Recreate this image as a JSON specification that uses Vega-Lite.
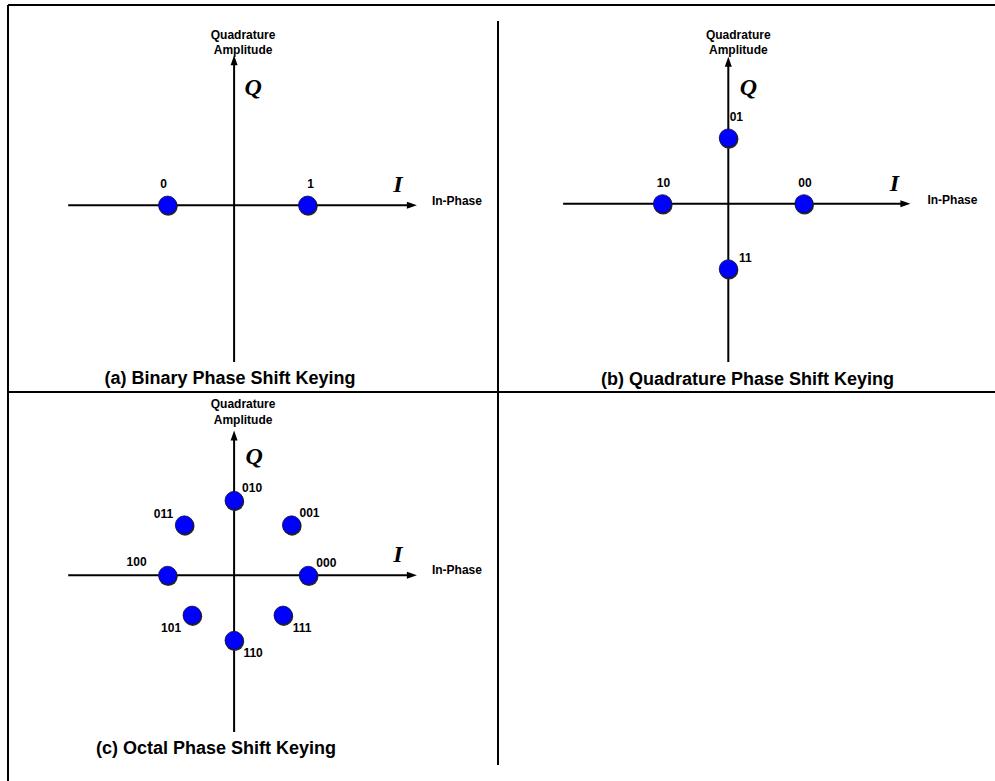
{
  "$schema": "https://vega.github.io/schema/vega-lite/v6.json",
  "padding": {"left": 7, "top": 4, "right": 0, "bottom": 0},
  "background": "#ffffff",
  "config": {
    "view": {"stroke": null},
    "concat": {"spacing": 0},
    "text": {"font": "Liberation Sans", "fontWeight": "bold", "fontSize": 12, "color": "#000000"},
    "title": {"orient": "bottom", "anchor": "middle", "baseline": "alphabetic", "font": "Liberation Sans", "fontWeight": "bold", "fontSize": 18, "color": "#000000"}
  },
  "datasets": {
    "segments": [
      {"panel": "a", "I": -3.23, "Q": 2.86, "I2": 3.77, "Q2": 2.86},
      {"panel": "a", "I": -3.23, "Q": -2.67, "I2": -3.23, "Q2": 2.86},
      {"panel": "a", "I": 3.77, "Q": -2.67, "I2": 3.77, "Q2": 2.63},
      {"panel": "a", "I": -3.23, "Q": -2.67, "I2": 3.77, "Q2": -2.67},
      {"panel": "a", "I": -2.37, "Q": 0, "I2": 2.54, "Q2": 0},
      {"panel": "a", "I": 0, "Q": -2.24, "I2": 0, "Q2": 2.07},
      {"panel": "b", "I": -3.29, "Q": 2.84, "I2": 3.81, "Q2": 2.84},
      {"panel": "b", "I": -3.29, "Q": -2.69, "I2": 3.81, "Q2": -2.69},
      {"panel": "b", "I": -2.36, "Q": 0, "I2": 2.53, "Q2": 0},
      {"panel": "b", "I": 0, "Q": -2.26, "I2": 0, "Q2": 2.03},
      {"panel": "c", "I": -3.23, "Q": -2.94, "I2": -3.23, "Q2": 2.62},
      {"panel": "c", "I": 3.77, "Q": -2.71, "I2": 3.77, "Q2": 2.62},
      {"panel": "c", "I": -2.37, "Q": 0, "I2": 2.54, "Q2": 0},
      {"panel": "c", "I": 0, "Q": -2.24, "I2": 0, "Q2": 2.0}
    ],
    "axes": [
      {"panel": "a", "axis": "I", "I": 2.54, "Q": 0, "name": "In-Phase", "symbol": "I"},
      {"panel": "a", "axis": "Q", "I": 0, "Q": 2.07, "name": "Quadrature\nAmplitude", "symbol": "Q"},
      {"panel": "b", "axis": "I", "I": 2.53, "Q": 0, "name": "In-Phase", "symbol": "I"},
      {"panel": "b", "axis": "Q", "I": 0, "Q": 2.03, "name": "Quadrature\nAmplitude", "symbol": "Q"},
      {"panel": "c", "axis": "I", "I": 2.54, "Q": 0, "name": "In-Phase", "symbol": "I"},
      {"panel": "c", "axis": "Q", "I": 0, "Q": 2.0, "name": "Quadrature\nAmplitude", "symbol": "Q"}
    ],
    "points": [
      {"panel": "a", "label": "0", "I": -0.95, "Q": 0},
      {"panel": "a", "label": "1", "I": 1.05, "Q": 0},
      {"panel": "b", "label": "01", "I": 0, "Q": 0.94},
      {"panel": "b", "label": "10", "I": -0.94, "Q": 0},
      {"panel": "b", "label": "00", "I": 1.08, "Q": 0},
      {"panel": "b", "label": "11", "I": 0, "Q": -0.93},
      {"panel": "c", "label": "010", "I": 0, "Q": 1.07},
      {"panel": "c", "label": "011", "I": -0.71, "Q": 0.72},
      {"panel": "c", "label": "001", "I": 0.82, "Q": 0.72},
      {"panel": "c", "label": "100", "I": -0.95, "Q": 0},
      {"panel": "c", "label": "000", "I": 1.06, "Q": 0},
      {"panel": "c", "label": "101", "I": -0.6, "Q": -0.57},
      {"panel": "c", "label": "111", "I": 0.7, "Q": -0.57},
      {"panel": "c", "label": "110", "I": 0, "Q": -0.93}
    ]
  },
  "bounds": "flush",
  "spacing": 0,
  "columns": 2,
  "concat": [
    {
      "title": {"text": "(a) Binary Phase Shift Keying", "offset": -23, "dx": -23},
      "width": 490,
      "height": 387,
      "encoding": {
        "x": {"field": "I", "type": "quantitative", "scale": {"domain": [-3.23, 3.77], "nice": false, "zero": false}, "axis": null},
        "y": {"field": "Q", "type": "quantitative", "scale": {"domain": [-2.67, 2.86], "nice": false, "zero": false}, "axis": null}
      },
      "layer": [
        {
          "data": {"name": "segments"},
          "transform": [{"filter": "datum.panel === 'a'"}],
          "mark": {"type": "rule", "color": "#000000", "strokeWidth": 2},
          "encoding": {"x2": {"field": "I2"}, "y2": {"field": "Q2"}}
        },
        {
          "data": {"name": "axes"},
          "transform": [{"filter": "datum.panel === 'a'"}],
          "layer": [
            {"transform": [{"filter": "datum.axis === 'I'"}], "mark": {"type": "point", "shape": "M1,0L-1,-0.7L-1,0.7Z", "size": 100, "filled": true, "color": "#000000", "opacity": 1}},
            {"transform": [{"filter": "datum.axis === 'Q'"}], "mark": {"type": "point", "shape": "M0,-1L-0.7,1L0.7,1Z", "size": 100, "filled": true, "color": "#000000", "opacity": 1}},
            {"transform": [{"filter": "datum.axis === 'I'"}], "mark": {"type": "text", "align": "left", "baseline": "middle", "dx": 20, "dy": -4}, "encoding": {"text": {"field": "name"}}},
            {"transform": [{"filter": "datum.axis === 'Q'"}], "mark": {"type": "text", "align": "center", "baseline": "alphabetic", "dx": 9, "dy": -21, "lineBreak": "\n", "lineHeight": 15}, "encoding": {"text": {"field": "name"}}},
            {"transform": [{"filter": "datum.axis === 'I'"}], "mark": {"type": "text", "align": "center", "baseline": "middle", "dx": -14, "dy": -20, "font": "Liberation Serif", "fontStyle": "italic", "fontWeight": "bold", "fontSize": 24}, "encoding": {"text": {"field": "symbol"}}},
            {"transform": [{"filter": "datum.axis === 'Q'"}], "mark": {"type": "text", "align": "center", "baseline": "middle", "dx": 19, "dy": 28, "font": "Liberation Serif", "fontStyle": "italic", "fontWeight": "bold", "fontSize": 24}, "encoding": {"text": {"field": "symbol"}}}
          ]
        },
        {
          "data": {"name": "points"},
          "transform": [{"filter": "datum.panel === 'a'"}],
          "layer": [
            {"mark": {"type": "point", "shape": "circle", "filled": true, "size": 361, "color": "#2a2a2a", "opacity": 1, "xOffset": 0.6, "yOffset": 1.2}},
            {"mark": {"type": "point", "shape": "circle", "filled": true, "size": 330, "fill": "#0000ff", "stroke": "#15153a", "strokeWidth": 0.8, "opacity": 1}},
            {"transform": [{"filter": "datum.label === '0'"}], "mark": {"type": "text", "baseline": "middle", "dx": -4, "dy": -21}, "encoding": {"text": {"field": "label"}}},
            {"transform": [{"filter": "datum.label === '1'"}], "mark": {"type": "text", "baseline": "middle", "dx": 3, "dy": -21}, "encoding": {"text": {"field": "label"}}}
          ]
        }
      ]
    },
    {
      "title": {"text": "(b) Quadrature Phase Shift Keying", "offset": -22, "dx": 1},
      "width": 497,
      "height": 387,
      "encoding": {
        "x": {"field": "I", "type": "quantitative", "scale": {"domain": [-3.29, 3.81], "nice": false, "zero": false}, "axis": null},
        "y": {"field": "Q", "type": "quantitative", "scale": {"domain": [-2.69, 2.84], "nice": false, "zero": false}, "axis": null}
      },
      "layer": [
        {
          "data": {"name": "segments"},
          "transform": [{"filter": "datum.panel === 'b'"}],
          "mark": {"type": "rule", "color": "#000000", "strokeWidth": 2},
          "encoding": {"x2": {"field": "I2"}, "y2": {"field": "Q2"}}
        },
        {
          "data": {"name": "axes"},
          "transform": [{"filter": "datum.panel === 'b'"}],
          "layer": [
            {"transform": [{"filter": "datum.axis === 'I'"}], "mark": {"type": "point", "shape": "M1,0L-1,-0.7L-1,0.7Z", "size": 100, "filled": true, "color": "#000000", "opacity": 1}},
            {"transform": [{"filter": "datum.axis === 'Q'"}], "mark": {"type": "point", "shape": "M0,-1L-0.7,1L0.7,1Z", "size": 100, "filled": true, "color": "#000000", "opacity": 1}},
            {"transform": [{"filter": "datum.axis === 'I'"}], "mark": {"type": "text", "align": "left", "baseline": "middle", "dx": 22, "dy": -4}, "encoding": {"text": {"field": "name"}}},
            {"transform": [{"filter": "datum.axis === 'Q'"}], "mark": {"type": "text", "align": "center", "baseline": "alphabetic", "dx": 10, "dy": -23, "lineBreak": "\n", "lineHeight": 15}, "encoding": {"text": {"field": "name"}}},
            {"transform": [{"filter": "datum.axis === 'I'"}], "mark": {"type": "text", "align": "center", "baseline": "middle", "dx": -11, "dy": -20, "font": "Liberation Serif", "fontStyle": "italic", "fontWeight": "bold", "fontSize": 24}, "encoding": {"text": {"field": "symbol"}}},
            {"transform": [{"filter": "datum.axis === 'Q'"}], "mark": {"type": "text", "align": "center", "baseline": "middle", "dx": 20, "dy": 26, "font": "Liberation Serif", "fontStyle": "italic", "fontWeight": "bold", "fontSize": 24}, "encoding": {"text": {"field": "symbol"}}}
          ]
        },
        {
          "data": {"name": "points"},
          "transform": [{"filter": "datum.panel === 'b'"}],
          "layer": [
            {"mark": {"type": "point", "shape": "circle", "filled": true, "size": 361, "color": "#2a2a2a", "opacity": 1, "xOffset": 0.6, "yOffset": 1.2}},
            {"mark": {"type": "point", "shape": "circle", "filled": true, "size": 330, "fill": "#0000ff", "stroke": "#15153a", "strokeWidth": 0.8, "opacity": 1}},
            {"transform": [{"filter": "datum.label === '10' || datum.label === '00'"}], "mark": {"type": "text", "baseline": "middle", "dx": 1, "dy": -21}, "encoding": {"text": {"field": "label"}}},
            {"transform": [{"filter": "datum.label === '01'"}], "mark": {"type": "text", "baseline": "middle", "dx": 8, "dy": -21}, "encoding": {"text": {"field": "label"}}},
            {"transform": [{"filter": "datum.label === '11'"}], "mark": {"type": "text", "baseline": "middle", "dx": 17, "dy": -11}, "encoding": {"text": {"field": "label"}}}
          ]
        }
      ]
    },
    {
      "title": {"text": "(c) Octal Phase Shift Keying", "offset": -42, "dx": -37},
      "width": 490,
      "height": 389,
      "encoding": {
        "x": {"field": "I", "type": "quantitative", "scale": {"domain": [-3.23, 3.77], "nice": false, "zero": false}, "axis": null},
        "y": {"field": "Q", "type": "quantitative", "scale": {"domain": [-2.94, 2.62], "nice": false, "zero": false}, "axis": null}
      },
      "layer": [
        {
          "data": {"name": "segments"},
          "transform": [{"filter": "datum.panel === 'c'"}],
          "mark": {"type": "rule", "color": "#000000", "strokeWidth": 2},
          "encoding": {"x2": {"field": "I2"}, "y2": {"field": "Q2"}}
        },
        {
          "data": {"name": "axes"},
          "transform": [{"filter": "datum.panel === 'c'"}],
          "layer": [
            {"transform": [{"filter": "datum.axis === 'I'"}], "mark": {"type": "point", "shape": "M1,0L-1,-0.7L-1,0.7Z", "size": 100, "filled": true, "color": "#000000", "opacity": 1}},
            {"transform": [{"filter": "datum.axis === 'Q'"}], "mark": {"type": "point", "shape": "M0,-1L-0.7,1L0.7,1Z", "size": 100, "filled": true, "color": "#000000", "opacity": 1}},
            {"transform": [{"filter": "datum.axis === 'I'"}], "mark": {"type": "text", "align": "left", "baseline": "middle", "dx": 20, "dy": -5}, "encoding": {"text": {"field": "name"}}},
            {"transform": [{"filter": "datum.axis === 'Q'"}], "mark": {"type": "text", "align": "center", "baseline": "alphabetic", "dx": 9, "dy": -27, "lineBreak": "\n", "lineHeight": 16}, "encoding": {"text": {"field": "name"}}},
            {"transform": [{"filter": "datum.axis === 'I'"}], "mark": {"type": "text", "align": "center", "baseline": "middle", "dx": -14, "dy": -20, "font": "Liberation Serif", "fontStyle": "italic", "fontWeight": "bold", "fontSize": 24}, "encoding": {"text": {"field": "symbol"}}},
            {"transform": [{"filter": "datum.axis === 'Q'"}], "mark": {"type": "text", "align": "center", "baseline": "middle", "dx": 20, "dy": 22, "font": "Liberation Serif", "fontStyle": "italic", "fontWeight": "bold", "fontSize": 24}, "encoding": {"text": {"field": "symbol"}}}
          ]
        },
        {
          "data": {"name": "points"},
          "transform": [{"filter": "datum.panel === 'c'"}],
          "layer": [
            {"mark": {"type": "point", "shape": "circle", "filled": true, "size": 361, "color": "#2a2a2a", "opacity": 1, "xOffset": 0.6, "yOffset": 1.2}},
            {"mark": {"type": "point", "shape": "circle", "filled": true, "size": 330, "fill": "#0000ff", "stroke": "#15153a", "strokeWidth": 0.8, "opacity": 1}},
            {"transform": [{"filter": "datum.label === '010' || datum.label === '001' || datum.label === '000'"}], "mark": {"type": "text", "baseline": "middle", "dx": 18, "dy": -12}, "encoding": {"text": {"field": "label"}}},
            {"transform": [{"filter": "datum.label === '011'"}], "mark": {"type": "text", "baseline": "middle", "dx": -21, "dy": -11}, "encoding": {"text": {"field": "label"}}},
            {"transform": [{"filter": "datum.label === '100'"}], "mark": {"type": "text", "baseline": "middle", "dx": -31, "dy": -13}, "encoding": {"text": {"field": "label"}}},
            {"transform": [{"filter": "datum.label === '101'"}], "mark": {"type": "text", "baseline": "middle", "dx": -21, "dy": 13}, "encoding": {"text": {"field": "label"}}},
            {"transform": [{"filter": "datum.label === '111' || datum.label === '110'"}], "mark": {"type": "text", "baseline": "middle", "dx": 19, "dy": 13}, "encoding": {"text": {"field": "label"}}}
          ]
        }
      ]
    }
  ]
}
